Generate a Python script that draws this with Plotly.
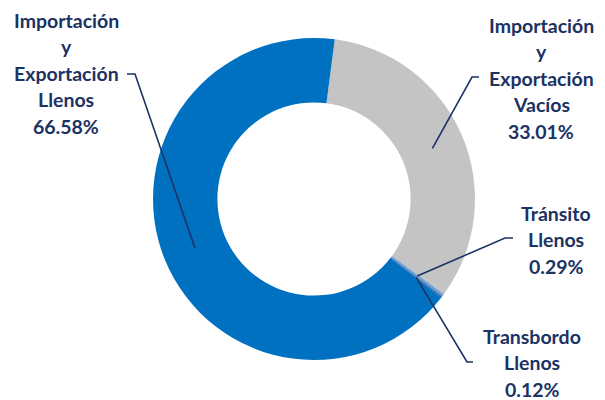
import math
import plotly.graph_objects as go

# ---- data ----
labels = ["Importación y Exportación Vacíos", "Tránsito Llenos",
          "Transbordo Llenos", "Importación y Exportación Llenos"]
values = [33.01, 0.29, 0.12, 66.58]
label_lines = [
    ["Importación", "y", "Exportación", "Vacíos", "33.01%"],
    ["Tránsito", "Llenos", "0.29%"],
    ["Transbordo", "Llenos", "0.12%"],
    ["Importación", "y", "Exportación", "Llenos", "66.58%"],
]
colors = ["#C4C4C4", "#6A9FD8", "#2E5597", "#0070C0"]

# ---- layout constants (pixels) ----
W, H = 605, 400
CX, CY, R = 314, 199, 161
HOLE = 0.6
ROT = 7.4
TXT = "#1B3263"

# label block: (center x, first line center y)
label_pos = [(541, 25), (556, 213), (532, 336), (66, 20)]
LINE_H = 26.5
# leader elbow: (elbow x, elbow y, end x of short horizontal)
elbows = [(472, 77, 479), (505, 238, 513), (467, 362, 473), (135, 74, 127)]

fig = go.Figure()
fig.add_trace(go.Pie(
    labels=labels, values=values, sort=False, direction="clockwise",
    rotation=ROT, hole=HOLE, textinfo="none",
    marker=dict(colors=colors, line=dict(width=0)),
    domain=dict(x=[(CX - R) / W, (CX + R) / W],
                y=[1 - (CY + R) / H, 1 - (CY - R) / H]),
    showlegend=False,
))

# invisible pixel-space axes for leaders and labels
fig.add_trace(go.Scatter(x=[0], y=[0], mode="markers",
                         marker=dict(opacity=0), hoverinfo="skip", showlegend=False))

total = sum(values)
start = ROT
shapes = []
annotations = []
rmid = R * (1 + HOLE) / 2
for i, v in enumerate(values):
    span = v / total * 360
    mid = math.radians(start + span / 2)
    start += span
    ax = CX + rmid * math.sin(mid)
    ay = CY - rmid * math.cos(mid)
    ex, ey, hx = elbows[i]
    shapes.append(dict(type="path", xref="x", yref="y",
                       path=f"M {ax:.1f},{ay:.1f} L {ex},{ey} L {hx},{ey}",
                       line=dict(color=TXT, width=1.6)))
    lx, ly = label_pos[i]
    for j, t in enumerate(label_lines[i]):
        annotations.append(dict(x=lx, y=ly + j * LINE_H, xref="x", yref="y",
                                text=t, showarrow=False, xanchor="center",
                                yanchor="middle",
                                font=dict(family="Lato", size=19.5, color=TXT,
                                          weight="bold")))

fig.update_layout(
    width=W, height=H, margin=dict(l=0, r=0, t=0, b=0),
    paper_bgcolor="white", plot_bgcolor="rgba(0,0,0,0)",
    xaxis=dict(range=[0, W], visible=False, fixedrange=True),
    yaxis=dict(range=[H, 0], visible=False, fixedrange=True),
    shapes=shapes, annotations=annotations,
)
fig.write_html("out.html", config={"displayModeBar": False},
               post_script="document.body.style.margin='0';"
                           "document.body.style.overflow='hidden';")
